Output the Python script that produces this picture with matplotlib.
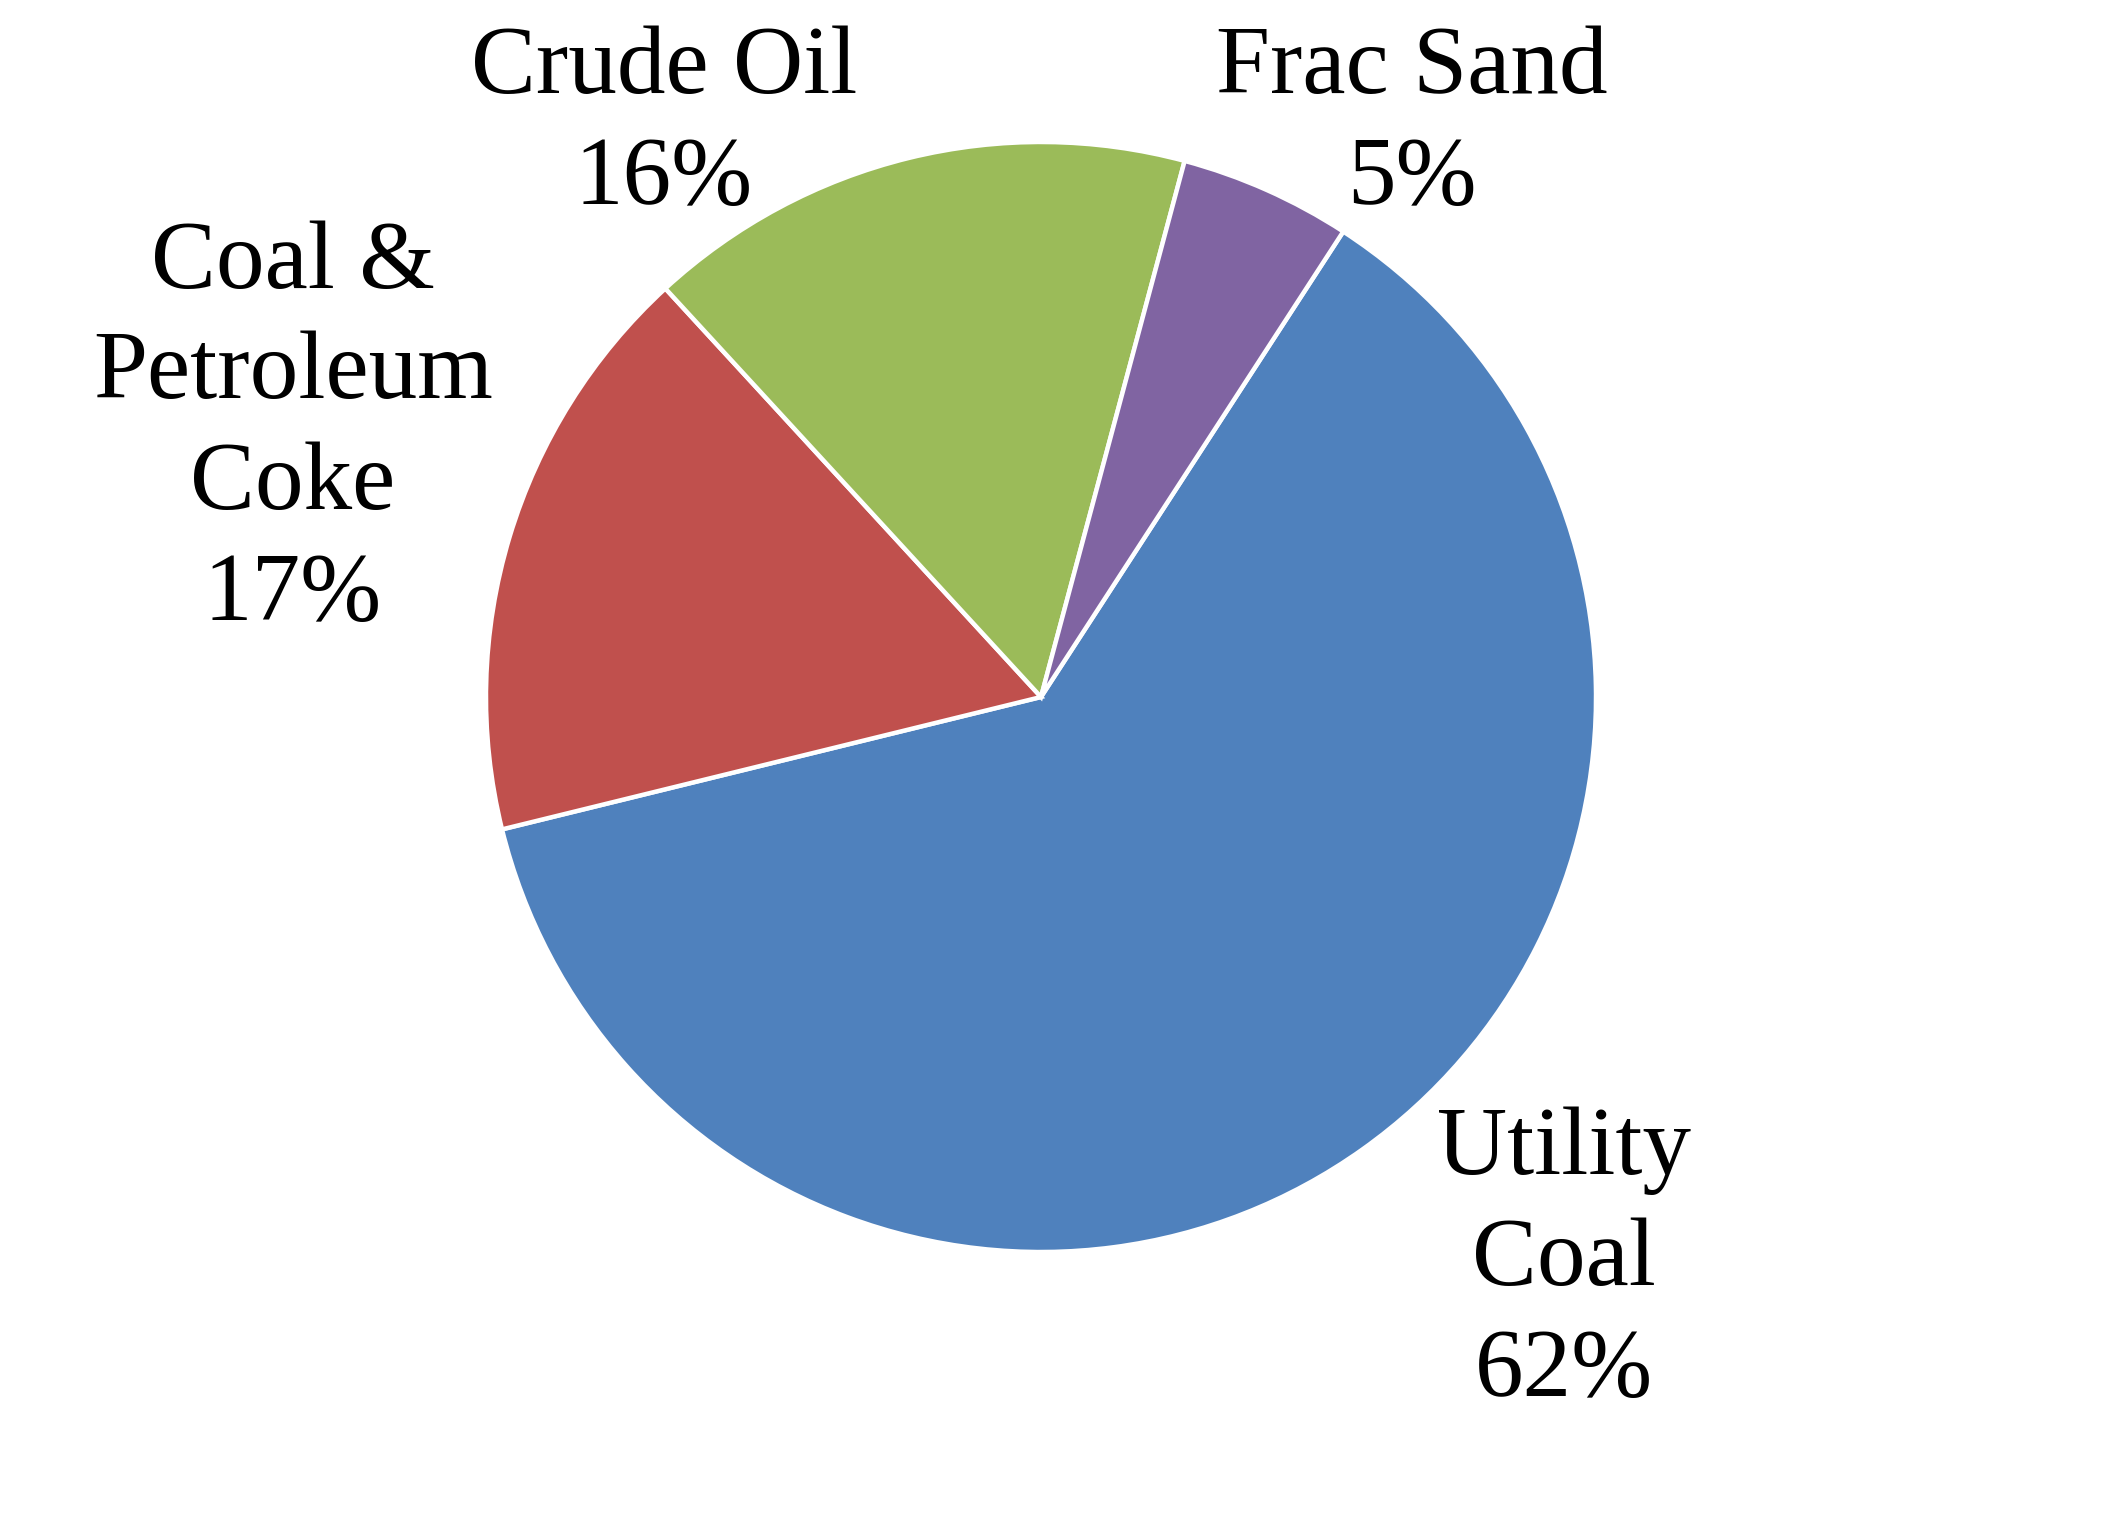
import matplotlib
matplotlib.use("Agg")
import matplotlib.pyplot as plt

labels = ["Utility Coal", "Coal & Petroleum Coke", "Crude Oil", "Frac Sand"]
values = [62, 17, 16, 5]
label_texts = ["Utility\nCoal\n62%", "Coal &\nPetroleum\nCoke\n17%", "Crude Oil\n16%", "Frac Sand\n5%"]
colors = ["#4F81BD", "#C0504D", "#9BBB59", "#8064A2"]

W, H = 2112, 1533
fig = plt.figure(figsize=(W / 100, H / 100), dpi=100)
fig.patch.set_facecolor("white")

cx, cy, r = 1041, 697, 555
ax = fig.add_axes([(cx - r) / W, (H - cy - r) / H, 2 * r / W, 2 * r / H])
ax.pie(values, colors=colors, startangle=57, counterclock=False, radius=1,
       wedgeprops=dict(edgecolor="white", linewidth=3.2))
ax.set_xlim(-1, 1)
ax.set_ylim(-1, 1)
ax.set_aspect("equal")
ax.axis("off")

# label positions (center x, last-line baseline y) in pixels
label_pos = [(1564, 1396), (293, 620), (664, 204), (1412, 204)]
for txt, (x, y) in zip(label_texts, label_pos):
    fig.text(x / W, 1 - y / H, txt, ha="center", va="baseline",
             multialignment="center", fontsize=70, family="Liberation Serif",
             linespacing=1.33, color="black")

fig.savefig("out.png", dpi=100, facecolor="white")
